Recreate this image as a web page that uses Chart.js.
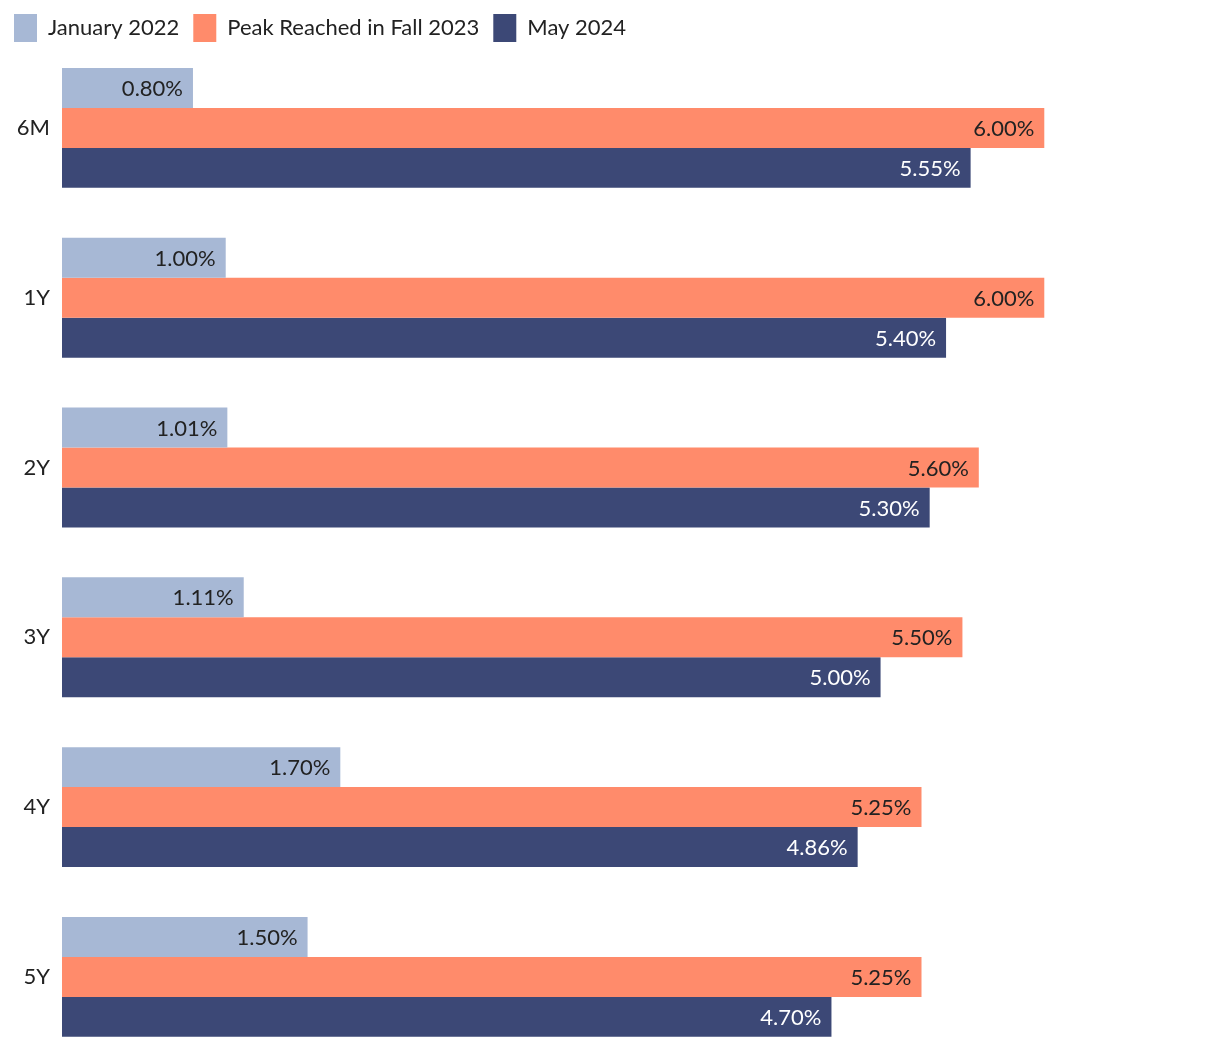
<!DOCTYPE html>
<html>
<head>
<meta charset="utf-8">
<script src="https://cdn.jsdelivr.net/npm/chart.js@4.4.1/dist/chart.umd.min.js"></script>
<style>
  html, body { margin: 0; padding: 0; background: #fff; overflow: hidden; }
  canvas { display: block; }
</style>
</head>
<body>
<canvas id="chartCanvas" width="1220" height="1087"></canvas>
<script>
// Data
const terms = ['6M', '1Y', '2Y', '3Y', '4Y', '5Y'];
const jan2022 = [0.80, 1.00, 1.01, 1.11, 1.70, 1.50];
const peakFall2023 = [6.00, 6.00, 5.60, 5.50, 5.25, 5.25];
const may2024 = [5.55, 5.40, 5.30, 5.00, 4.86, 4.70];

const seriesNames = ['January 2022', 'Peak Reached in Fall 2023', 'May 2024'];
const COLORS = ['#a7b8d5', '#ff8b6b', '#3c4876'];
const LABEL_COLORS = ['#222222', '#222222', '#ffffff'];
const FONT = 'Lato, "Source Sans Pro", "Noto Sans", sans-serif';
const LEGEND_HEIGHT = 43;

// value at the inner end of each bar
const valueLabels = {
  id: 'valueLabels',
  afterDatasetsDraw(chart) {
    const ctx = chart.ctx;
    ctx.save();
    ctx.font = '22px ' + FONT;
    ctx.textAlign = 'right';
    ctx.textBaseline = 'middle';
    chart.data.datasets.forEach((ds, i) => {
      chart.getDatasetMeta(i).data.forEach((bar, j) => {
        ctx.fillStyle = LABEL_COLORS[i];
        ctx.fillText(ds.data[j].toFixed(2) + '%', bar.x - 10, bar.y + 1);
      });
    });
    ctx.restore();
  }
};

// pin the legend box height so the plot starts where the reference does
const legendHeight = {
  id: 'legendHeight',
  beforeLayout(chart) {
    const lg = chart.legend;
    if (lg && !lg._pinned) {
      const fit = lg.fit.bind(lg);
      lg.fit = function () { fit(); this.height = LEGEND_HEIGHT; };
      lg._pinned = true;
    }
  }
};

new Chart(document.getElementById('chartCanvas').getContext('2d'), {
  type: 'bar',
  data: {
    labels: terms,
    datasets: [jan2022, peakFall2023, may2024].map((d, i) => ({
      label: seriesNames[i],
      data: d,
      backgroundColor: COLORS[i],
      borderWidth: 0,
      categoryPercentage: 120 / 170,
      barPercentage: 1
    }))
  },
  options: {
    indexAxis: 'y',
    responsive: false,
    animation: false,
    layout: { padding: { left: 0, right: 12, top: 0, bottom: 0 } },
    plugins: {
      tooltip: { enabled: false },
      legend: {
        position: 'top',
        align: 'start',
        labels: {
          boxWidth: 23,
          boxHeight: 28,
          padding: 14,
          color: '#222222',
          font: { family: FONT, size: 22 }
        }
      }
    },
    scales: {
      x: {
        display: false,
        min: 0,
        max: 7
      },
      y: {
        grid: { display: false, drawTicks: false },
        border: { display: false },
        ticks: {
          padding: 12,
          color: '#222222',
          font: { family: FONT, size: 22 }
        },
        afterFit(scale) { scale.width = 62; }
      }
    }
  },
  plugins: [legendHeight, valueLabels]
});
</script>
</body>
</html>
